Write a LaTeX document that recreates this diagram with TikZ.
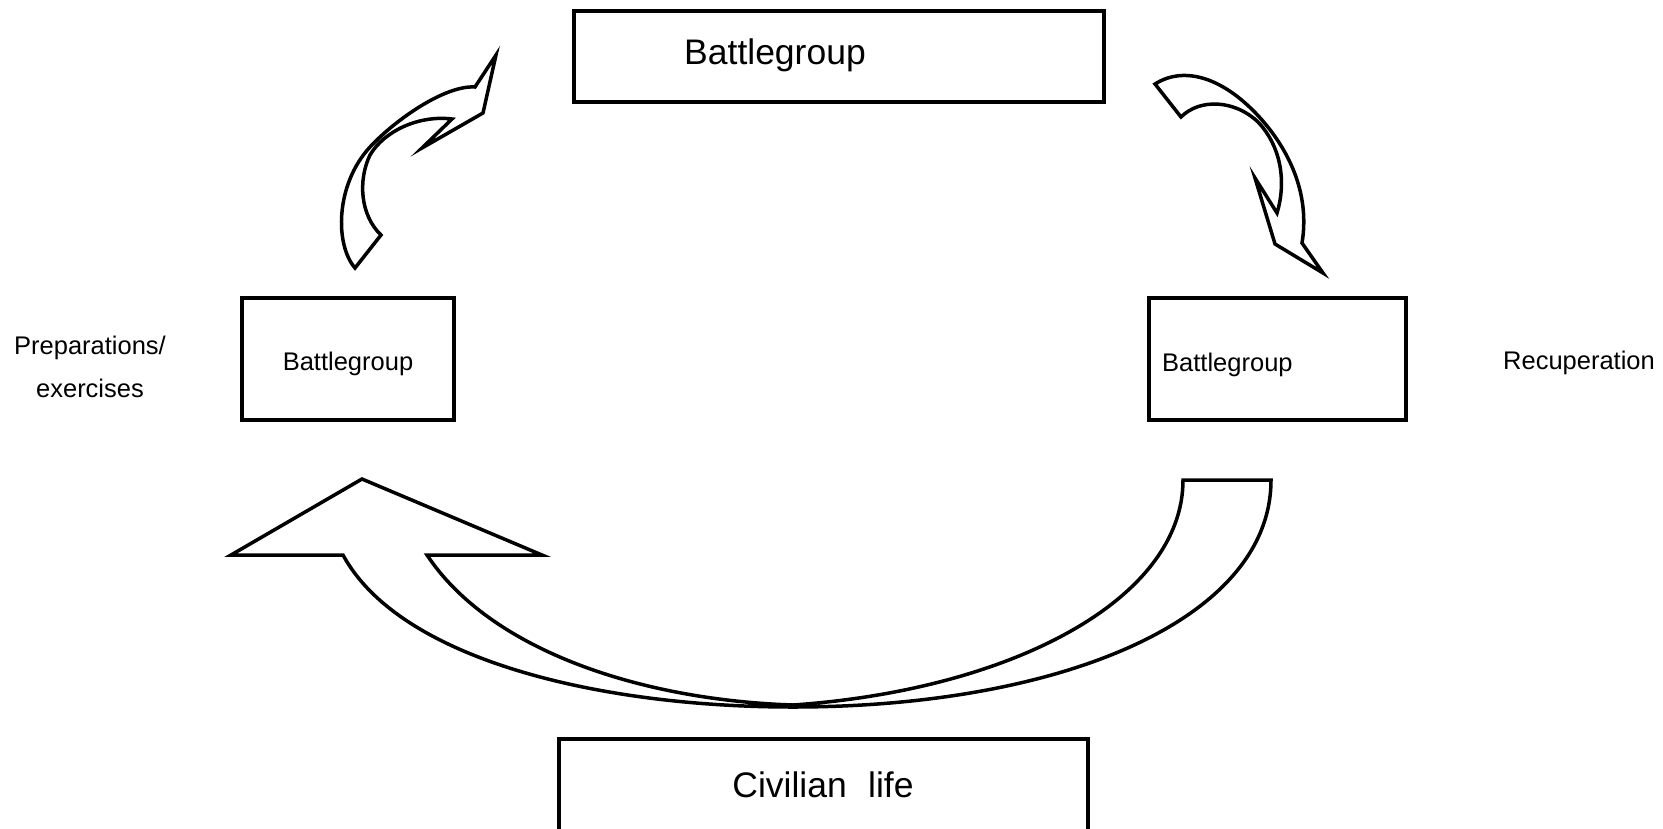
\documentclass[tikz,border=0pt]{standalone}
\usepackage{fontspec}
\setmainfont{Liberation Sans}
\begin{document}
\begin{tikzpicture}[x=1pt,y=-1pt,
  box/.style={draw=black, line width=3.5pt, fill=white, inner sep=0pt},
  bigtxt/.style={font=\fontsize{35.5}{40}\selectfont, inner sep=0pt},
  midtxt/.style={font=\fontsize{25.5}{30}\selectfont, inner sep=0pt},
  arrowshape/.style={draw=black, line width=3.5pt, fill=white, line join=miter}]
\useasboundingbox (0,0) rectangle (1663,828);
% boxes
\node[box, minimum width=530pt, minimum height=91pt] (topbox) at (839,56.5) {};
\node[bigtxt] (toptext) at (775,55) {Battlegroup};
\node[box, minimum width=212pt, minimum height=122pt] (leftbox) at (348,359) {};
\node[midtxt] (lefttext) at (348,364) {Battlegroup};
\node[box, minimum width=257pt, minimum height=122pt] (rightbox) at (1277.5,359) {};
\node[midtxt, anchor=west] (righttext) at (1162,365) {Battlegroup};
\node[box, minimum width=529pt, minimum height=100pt] (botbox) at (823.5,789) {};
\node[bigtxt] (bottext) at (823,785) {Civilian\hspace{0.6em}life};
% side labels
\node[midtxt, align=center] (prep) at (90,367) {Preparations/\\[13pt]exercises};
\node[midtxt] (recup) at (1579,363) {Recuperation};
% top-left arrow
\draw[arrowshape] (355,268) .. controls (335,245) and (335,185) .. (370,147)
  .. controls (395,120) and (445,85) .. (475,87)
  -- (496,55) -- (483,113) -- (422,148) -- (452,119)
  .. controls (420,115) and (385,130) .. (370,155)
  .. controls (358,180) and (360,215) .. (381,235) -- cycle;
% top-right arrow
\draw[arrowshape] (1155,84) .. controls (1185,65) and (1225,78) .. (1262,120)
  .. controls (1290,152) and (1310,195) .. (1302,243)
  -- (1323,273) -- (1275,244) -- (1255,178) -- (1277,213)
  .. controls (1287,180) and (1280,145) .. (1258,122)
  .. controls (1235,100) and (1200,98) .. (1181,117) -- cycle;
% bottom arrow
\draw[arrowshape] (362,479) -- (542,555) -- (427,555)
  .. controls (490,650) and (640,700) .. (793,705)
  .. controls (1010,690) and (1183,600) .. (1183,480)
  -- (1271,480)
  .. controls (1271,620) and (1060,707) .. (793,707)
  .. controls (600,707) and (400,660) .. (343,555)
  -- (231,555) -- cycle;
\end{tikzpicture}
\end{document}
